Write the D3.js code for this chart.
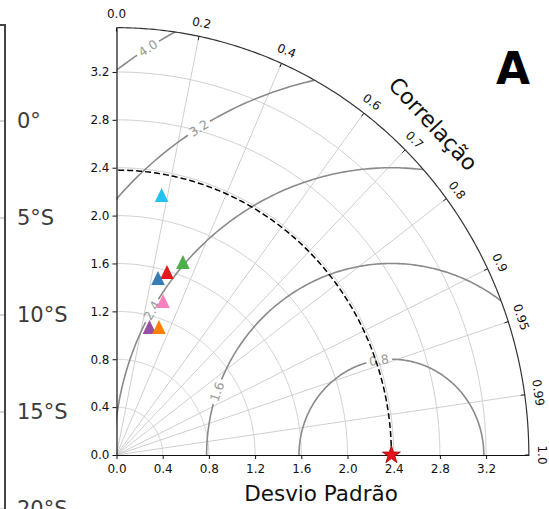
<!DOCTYPE html>
<html>
<head>
<meta charset="utf-8">
<script src="https://cdn.jsdelivr.net/npm/d3@7"></script>
<style>
  body { margin: 0; background: #fff; }
  text { font-family: "DejaVu Sans", sans-serif; }
</style>
</head>
<body>
<div id="chart"></div>
<script>
// ---- data ----
var stdTicks = [0.0, 0.4, 0.8, 1.2, 1.6, 2.0, 2.4, 2.8, 3.2];
var corrTicks = [0.0, 0.2, 0.4, 0.6, 0.7, 0.8, 0.9, 0.95, 0.99, 1.0];
var rmsLevels = [0.8, 1.6, 2.4, 3.2, 4.0];
var refStd = 2.38;
var modelStd  = [2.207, 1.712, 1.590, 1.522, 1.348, 1.107, 1.131];
var modelCorr = [0.177, 0.336, 0.275, 0.236, 0.299, 0.258, 0.325];
var modelColors = ['#22c3ee', '#4daf4a', '#e41a1c', '#377eb8', '#f781bf', '#984ea3', '#ff7f00'];
var mapLatLabels = ['0°', '5°S', '10°S', '15°S', '20°S'];

// ---- layout ----
var fullWidth = 549, fullHeight = 509;
var rmax = 3.57;
var ox = 116.5, oy = 455;       // origin of the diagram
var kx = 115.5, ky = 119.7;     // px per unit (picture is slightly stretched)
var rmsLabelAngle = [97.7, 160.7, 149.8, 121.4, 121.8]; // where labels sit on each contour (deg)
var gridColor = '#cfcfcf';
var contourColor = '#8a8a8a';

var svg = d3.select('#chart').append('svg')
    .attr('width', fullWidth)
    .attr('height', fullHeight);

var x = d3.scaleLinear().domain([0, rmax]).range([ox, ox + rmax * kx]);
var y = d3.scaleLinear().domain([0, rmax]).range([oy, oy - rmax * ky]);

var line = d3.line().x(function (d) { return x(d[0]); }).y(function (d) { return y(d[1]); });

// points on a circle in data space
function circlePts(cx, radius, t0, t1) {
    var pts = [];
    var n = 240;
    for (var i = 0; i <= n; i++) {
        var t = t0 + (t1 - t0) * i / n;
        pts.push([cx + radius * Math.cos(t), radius * Math.sin(t)]);
    }
    return pts;
}
function polar(s, r) {
    return [s * r, s * Math.sqrt(Math.max(0, 1 - r * r))];
}

// ---- left fragment of the neighbouring map panel ----
var mapG = svg.append('g');
mapG.append('path')
    .attr('d', 'M0,25H5V' + fullHeight)
    .attr('fill', 'none')
    .attr('stroke', '#444')
    .attr('stroke-width', 2);
mapG.selectAll('line.mt').data(mapLatLabels).enter().append('line')
    .attr('x1', 0).attr('x2', 4)
    .attr('y1', function (d, i) { return 121 + i * 97; })
    .attr('y2', function (d, i) { return 121 + i * 97; })
    .attr('stroke', '#aaa');
mapG.selectAll('text').data(mapLatLabels).enter().append('text')
    .attr('x', 17)
    .attr('y', function (d, i) { return 128 + i * 97; })
    .style('font-size', '21px')
    .style('fill', '#3c3c3c')
    .text(function (d) { return d; });

// ---- clip to the quarter disc ----
var defs = svg.append('defs');
var quarter = [[0, 0]].concat(circlePts(0, rmax, 0, Math.PI / 2));
defs.append('clipPath').attr('id', 'quarter')
    .append('path').attr('d', line(quarter) + 'Z');

// mask that opens gaps in the contours under their labels
var mask = defs.append('mask').attr('id', 'labelgaps')
    .attr('maskUnits', 'userSpaceOnUse')
    .attr('x', 0).attr('y', 0).attr('width', fullWidth).attr('height', fullHeight);
mask.append('rect').attr('width', fullWidth).attr('height', fullHeight).attr('fill', '#fff');

// ---- grid ----
var grid = svg.append('g').attr('fill', 'none').attr('stroke', gridColor).attr('stroke-width', 1);
stdTicks.slice(1).forEach(function (s) {
    grid.append('path').attr('d', line(circlePts(0, s, 0, Math.PI / 2)));
});
corrTicks.filter(function (r) { return r > 0 && r < 1; }).forEach(function (r) {
    grid.append('path').attr('d', line([[0, 0], polar(rmax, r)]));
});

// ---- RMS contours ----
var labelInfo = rmsLevels.map(function (c, i) {
    var t = rmsLabelAngle[i] * Math.PI / 180;
    var px = x(refStd + c * Math.cos(t)), py = y(c * Math.sin(t));
    var ang = Math.atan2(-Math.cos(t) * ky, -Math.sin(t) * kx) * 180 / Math.PI;
    if (ang > 90) ang -= 180;
    if (ang < -90) ang += 180;
    return { c: c, px: px, py: py, ang: ang };
});
labelInfo.forEach(function (d) {
    mask.append('rect')
        .attr('x', -13).attr('y', -6).attr('width', 26).attr('height', 12)
        .attr('fill', '#000')
        .attr('transform', 'translate(' + d.px + ',' + d.py + ') rotate(' + d.ang + ')');
});
var contours = svg.append('g')
    .attr('clip-path', 'url(#quarter)')
    .append('g')
    .attr('mask', 'url(#labelgaps)')
    .attr('fill', 'none').attr('stroke', contourColor).attr('stroke-width', 1.6);
rmsLevels.forEach(function (c) {
    contours.append('path').attr('d', line(circlePts(refStd, c, 0, Math.PI)));
});
svg.append('g').selectAll('text').data(labelInfo).enter().append('text')
    .attr('transform', function (d) { return 'translate(' + d.px + ',' + d.py + ') rotate(' + d.ang + ')'; })
    .attr('text-anchor', 'middle')
    .attr('dominant-baseline', 'central')
    .style('font-size', '12.5px')
    .style('fill', '#999')
    .text(function (d) { return d.c.toFixed(1); });

// reference std arc (dashed)
svg.append('path')
    .attr('d', line(circlePts(0, refStd, 0, Math.PI / 2)))
    .attr('fill', 'none').attr('stroke', '#000').attr('stroke-width', 1.5)
    .attr('stroke-dasharray', '6,3');

// ---- outer correlation arc, ticks and labels ----
svg.append('path')
    .attr('d', line(circlePts(0, rmax, 0, Math.PI / 2)))
    .attr('fill', 'none').attr('stroke', '#333').attr('stroke-width', 1.2);

var corrG = svg.append('g');
corrTicks.forEach(function (r) {
    var p = polar(rmax, r);
    var px = x(p[0]), py = y(p[1]);
    var a = Math.atan2(oy - py, px - ox);
    var ca = Math.cos(a), sa = Math.sin(a);
    corrG.append('line')
        .attr('x1', px).attr('y1', py)
        .attr('x2', px - 4 * ca).attr('y2', py + 4 * sa)
        .attr('stroke', '#222').attr('stroke-width', 1);
    corrG.append('text')
        .attr('transform', 'translate(' + (px + 13.5 * ca) + ',' + (py - 13.5 * sa) + ') rotate(' + (90 - a * 180 / Math.PI) + ')')
        .attr('text-anchor', 'middle')
        .attr('dominant-baseline', 'central')
        .style('font-size', '12px')
        .style('fill', '#111')
        .text(r.toString().length === 1 ? r.toFixed(1) : r.toString());
});

svg.append('text')
    .attr('transform', 'translate(433,124) rotate(47)')
    .attr('text-anchor', 'middle')
    .attr('dominant-baseline', 'central')
    .style('font-size', '22px')
    .style('fill', '#111')
    .text('Correlação');

// ---- std axes ----
var xAxis = d3.axisBottom(x).tickValues(stdTicks).tickFormat(d3.format('.1f')).tickSize(4).tickSizeOuter(0);
var yAxis = d3.axisLeft(y).tickValues(stdTicks).tickFormat(d3.format('.1f')).tickSize(4).tickSizeOuter(0);

var xAxisEle = svg.append('g')
    .attr('transform', 'translate(0,' + oy + ')')
    .call(xAxis);
var yAxisEle = svg.append('g')
    .attr('transform', 'translate(' + ox + ',0)')
    .call(yAxis);
[xAxisEle, yAxisEle].forEach(function (ax) {
    ax.selectAll('text').style('font-size', '12px').style('font-family', '"DejaVu Sans", sans-serif').style('fill', '#111');
    ax.select('.domain').attr('stroke', '#111').attr('stroke-width', 1.2);
    ax.selectAll('.tick line').attr('stroke', '#111');
});
xAxisEle.selectAll('text').attr('dy', '0.95em');

svg.append('text')
    .attr('x', 321).attr('y', 501)
    .attr('text-anchor', 'middle')
    .style('font-size', '21.5px')
    .style('fill', '#111')
    .text('Desvio Padrão');

// ---- reference point and models ----
svg.append('path')
    .attr('transform', 'translate(' + x(refStd) + ',' + y(0) + ')')
    .attr('d', d3.symbol().type(d3.symbolStar).size(100)())
    .attr('fill', '#e8141c').attr('stroke', '#a00000').attr('stroke-width', 0.8);

var tri = 'M0,-7L-6.8,7L6.8,7Z';
svg.append('g').selectAll('path').data(modelStd).enter().append('path')
    .attr('transform', function (d, i) {
        var p = polar(d, modelCorr[i]);
        return 'translate(' + x(p[0]) + ',' + y(p[1]) + ')';
    })
    .attr('d', tri)
    .attr('fill', function (d, i) { return modelColors[i]; });

// panel letter
svg.append('text')
    .attr('x', 513).attr('y', 84)
    .attr('text-anchor', 'middle')
    .style('font-size', '44px')
    .style('font-weight', 'bold')
    .style('fill', '#000')
    .text('A');
</script>
</body>
</html>
